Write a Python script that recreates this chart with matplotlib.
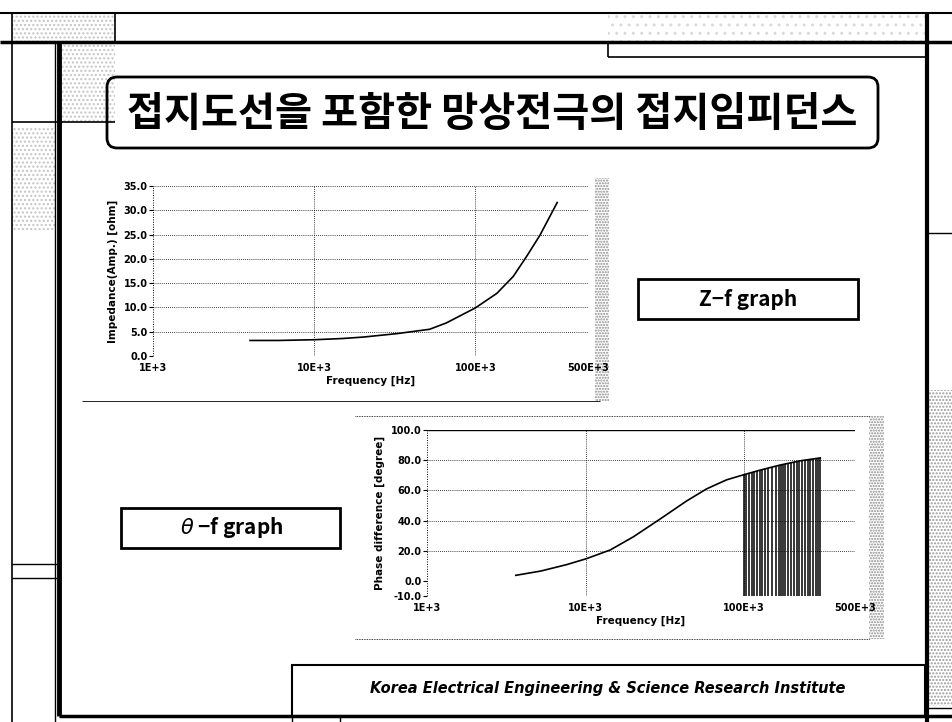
import numpy as np
import matplotlib.pyplot as plt
from matplotlib.patches import Rectangle, FancyBboxPatch
from matplotlib.ticker import NullLocator

#Z-f graph: impedance amplitude vs frequency (kHz)
z_freq = [4.0, 6.0, 10, 15, 20.2, 32.5, 52, 66, 100, 136, 172, 208, 252, 322]
z_amp = [3.2, 3.2, 3.35, 3.6, 3.9, 4.6, 5.5, 6.8, 9.9, 12.9, 16.4, 20.5, 24.9, 31.6]

#theta-f graph: phase difference vs frequency (kHz)
p_freq = [3.63, 5.2, 7.6, 10.1, 14.3, 20, 29.5, 43.4, 58, 77.6, 99, 127, 169, 226, 302]
p_deg = [3.7, 6.5, 10.8, 14.7, 20.5, 29.2, 41, 53, 61, 67, 70.3, 73.5, 76.8, 79.6, 81.5]

#the dense vertical lines under the phase curve above 100 kHz
bar_freq = [100, 103, 108, 112, 116, 120, 125, 130, 136, 142, 150, 158, 165, 170, 176,
            182, 190, 198, 206, 214, 222, 232, 242, 252, 262, 272, 282, 292, 302]
bar_top = [70.3, 70.8, 71.5, 72.0, 72.5, 72.9, 73.4, 73.9, 74.4, 75.0, 75.6, 76.2, 76.7, 77.0, 77.4,
           77.8, 78.3, 78.7, 79.1, 79.4, 79.7, 80.0, 80.3, 80.6, 80.9, 81.1, 81.3, 81.5, 81.7]

x_ticks = [1e3, 1e4, 1e5, 5e5]
x_labels = ['1E+3', '10E+3', '100E+3', '500E+3']
z_ticks = [0, 5, 10, 15, 20, 25, 30, 35]
p_ticks = [-10, 0, 20, 40, 60, 80, 100]

title = '접지도선을 포함한 망상전극의 접지임피던스'
footer = 'Korea Electrical Engineering & Science Research Institute'

W, H = 952, 722
fig = plt.figure(figsize=(W / 100, H / 100), dpi=100)

def rect(l, t, r, b):
    return [l / W, 1 - b / H, (r - l) / W, (b - t) / H]

#slide frame, drawn in pixel coordinates
bg = fig.add_axes([0, 0, 1, 1])
bg.set_xlim(0, W)
bg.set_ylim(H, 0)
bg.axis('off')

def line(x0, y0, x1, y1, lw=1.2):
    bg.plot([x0, x1], [y0, y1], color='black', lw=lw, solid_capstyle='butt')

def speckle(x0, y0, x1, y1, hatch='....', color='#b0b0b0'):
    bg.add_patch(Rectangle((x0, y0), x1 - x0, y1 - y0, fill=False, hatch=hatch,
                           edgecolor=color, lw=0))

speckle(12, 13, 115, 42, color='#c4c4c4')
speckle(62, 42, 115, 122, color='#c4c4c4')
speckle(12, 128, 55, 230, color='#c4c4c4')
speckle(608, 13, 927, 42, hatch='..', color='#dadada')
speckle(929, 390, 952, 706, hatch='.....', color='#9a9a9a')

line(0, 13, W, 13, 1.5)
line(0, 42, W, 42, 2.5)
line(12, 13, 12, H, 1.2)
line(115, 13, 115, 42, 1.2)
line(55, 42, 55, H, 1.0)
line(59, 42, 59, 716, 3.5)
line(12, 122, 115, 122, 1.2)
line(12, 564, 59, 564, 1.0)
line(12, 578, 59, 578, 1.0)
line(59, 716, W, 716, 2.5)
line(608, 42, 608, 57, 1.2)
line(608, 57, 927, 57, 1.2)
line(927, 13, 927, H, 3)
line(927, 233, W, 233, 1.0)
line(927, 708, W, 708, 1.0)
line(292, 716, 292, H, 1.0)
line(340, 716, 340, H, 1.0)

#title box
bg.add_patch(FancyBboxPatch((107, 77), 771, 71, boxstyle='round,pad=0,rounding_size=10',
                            fill=False, edgecolor='black', lw=2))
bg.text(492, 114, title, ha='center', va='center', fontsize=29, fontweight='bold',
        family=['Noto Sans CJK KR', 'DejaVu Sans'])

#graph name boxes
bg.add_patch(Rectangle((638, 279), 220, 40, fill=False, edgecolor='black', lw=2))
bg.text(748, 299, 'Z−f graph', ha='center', va='center', fontsize=15, fontweight='bold',
        family=['Noto Sans CJK KR', 'DejaVu Sans'])
bg.add_patch(Rectangle((121, 508), 219, 40, fill=False, edgecolor='black', lw=2))
bg.text(232, 528, r'$\theta$ −f graph', ha='center', va='center', fontsize=15, fontweight='bold',
        family=['Noto Sans CJK KR', 'DejaVu Sans'])

#footer box
bg.add_patch(Rectangle((292, 665), 633, 51, fill=False, edgecolor='black', lw=1.5))
bg.text(608, 688, footer, ha='center', va='center', fontsize=10.5, fontweight='bold',
        style='italic')

#chart area borders and grey side strips
line(82, 401, 600, 401, 0.6)
speckle(595, 178, 609, 401, hatch='......', color='#8a8a8a')
bg.plot([355, 870], [416, 416], color='black', lw=0.6, ls=(0, (1, 1)))
bg.plot([355, 870], [639, 639], color='black', lw=0.6, ls=(0, (1, 1)))
speckle(869, 416, 884, 639, hatch='......', color='#8a8a8a')

def style_axes(ax, ymin, ymax, yticks, solid_top=False):
    ax.set_xscale('log')
    ax.set_xlim(x_ticks[0], x_ticks[-1])
    ax.set_ylim(ymin, ymax)
    ax.set_xticks(x_ticks)
    ax.set_xticklabels(x_labels)
    ax.xaxis.set_minor_locator(NullLocator())
    ax.set_yticks(yticks)
    ax.set_yticklabels(['%.1f' % v for v in yticks])
    for s in ax.spines.values():
        s.set_visible(False)
    ax.patch.set_alpha(0)
    ax.tick_params(axis='x', length=0, pad=5, labelsize=7)
    ax.tick_params(axis='y', length=3, width=0.8, pad=1, labelsize=7)
    for lab in ax.get_xticklabels() + ax.get_yticklabels():
        lab.set_fontweight('bold')
    dots = (0, (1, 1.5))
    ax.axvline(x_ticks[0], color='black', lw=0.7, ls=dots)
    for f in x_ticks[1:-1]:
        ax.axvline(f, color='black', lw=0.6, ls=dots)
    for v in yticks:
        if v <= 0:
            continue
        if solid_top and v == yticks[-1]:
            ax.axhline(v, color='black', lw=1.0)
        else:
            ax.axhline(v, color='black', lw=0.6, ls=dots)

#Z-f graph
ax1 = fig.add_axes(rect(153, 186, 588, 356))
style_axes(ax1, 0, 35, z_ticks)
ax1.plot(np.array(z_freq) * 1e3, z_amp, color='black', lw=1.2)
ax1.set_xlabel('Frequency [Hz]', fontsize=7.5, fontweight='bold', labelpad=2)
ax1.set_ylabel('Impedance(Amp.) [ohm]', fontsize=7.5, fontweight='bold', labelpad=4)

#theta-f graph
ax2 = fig.add_axes(rect(427, 430, 855, 596))
style_axes(ax2, -10, 100, p_ticks, solid_top=True)
ax2.vlines(np.array(bar_freq) * 1e3, -10, bar_top, color='black', lw=1.1)
ax2.plot(np.array(p_freq) * 1e3, p_deg, color='black', lw=1.2)
ax2.set_xlabel('Frequency [Hz]', fontsize=7.5, fontweight='bold', labelpad=2)
ax2.set_ylabel('Phase difference [degree]', fontsize=7.5, fontweight='bold', labelpad=4)

fig.savefig('out.png', dpi=100)
